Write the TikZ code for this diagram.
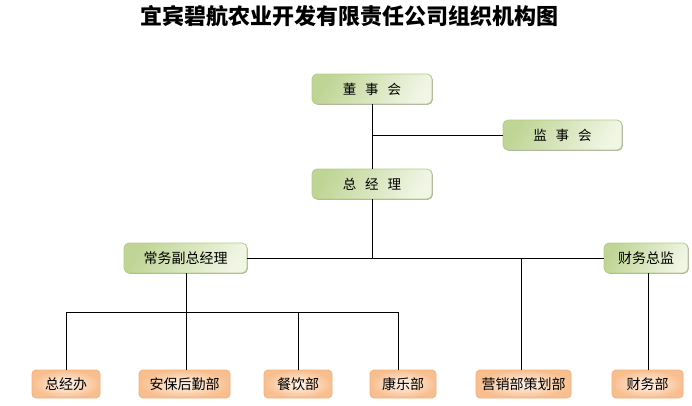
\documentclass[tikz,border=0pt]{standalone}
\usepackage{fontspec}
\setmainfont{Noto Sans CJK SC}
\usetikzlibrary{shadows}
\definecolor{gdark}{HTML}{BFD595}
\definecolor{glight}{HTML}{F0F5E4}
\definecolor{gborder}{HTML}{B5CB86}
\definecolor{odark}{HTML}{F8BE8E}
\definecolor{olight}{HTML}{FFF6EE}
\definecolor{oborder}{HTML}{F3B07E}
\newcommand{\gsp}{\hspace{0.65em}}
\tikzset{
  gbox/.style={draw=gborder, line width=0.8pt, rounded corners=5pt,
    left color=gdark, right color=glight, shading angle=60,
    minimum height=30pt, inner sep=0pt, font=\fontsize{13.5}{15}\selectfont,
    drop shadow={shadow xshift=0.8pt, shadow yshift=-0.8pt, fill=black!55, opacity=0.6}},
  obox/.style={draw=oborder, line width=0.8pt, rounded corners=4pt,
    inner color=olight, outer color=odark,
    minimum height=28pt, inner sep=0pt, font=\fontsize{14}{15}\selectfont},
  conn/.style={line width=1pt, black}
}
\begin{document}
\begin{tikzpicture}[x=1pt,y=-1pt]
\useasboundingbox (0,0) rectangle (692,405);
\node[font=\fontsize{22}{25}\selectfont\bfseries] (title) at (349,16) {宜宾碧航农业开发有限责任公司组织机构图};
% green boxes
\node[gbox, minimum width=120pt] (dsh) at (372,89) {董\gsp 事\gsp 会};
\node[gbox, minimum width=119pt] (jsh) at (562.5,135) {监\gsp 事\gsp 会};
\node[gbox, minimum width=120pt] (zjl) at (372,184) {总\gsp 经\gsp 理};
\node[gbox, minimum width=123pt, font=\fontsize{14}{15}\selectfont] (cw) at (185.5,258) {常务副总经理};
\node[gbox, minimum width=84pt, font=\fontsize{14}{15}\selectfont] (cwzj) at (646,258) {财务总监};
% orange boxes
\node[obox, minimum width=68pt] (zjb) at (66,384) {总经办};
\node[obox, minimum width=91pt] (abh) at (184.5,384) {安保后勤部};
\node[obox, minimum width=68pt] (cy) at (298,384) {餐饮部};
\node[obox, minimum width=66pt] (kl) at (403,384) {康乐部};
\node[obox, minimum width=95pt] (yx) at (523.5,384) {营销部策划部};
\node[obox, minimum width=71pt] (cwb) at (647.5,384) {财务部};
% coordinates
\coordinate (j1) at (372,135);
\coordinate (j2) at (372,258);
\coordinate (j3) at (521.5,258);
\coordinate (j4) at (186.5,312.5);
\coordinate (b1) at (66,312.5);
\coordinate (b2) at (298,312.5);
\coordinate (b3) at (398.5,312.5);
\coordinate (f1) at (648.5,273);
\coordinate (f2) at (648.5,370);
\coordinate (c1) at (186.5,273);
% connectors
\draw[conn] (dsh.south) -- (zjl.north);
\draw[conn] (j1) -- (jsh.west);
\draw[conn] (zjl.south) -- (j2);
\draw[conn] (cw.east) -- (cwzj.west);
\draw[conn] (j3) -- (j3 |- yx.north);
\draw[conn] (f1) -- (f2);
\draw[conn] (c1) -- (j4);
\draw[conn] (b1) -- (b3);
\draw[conn] (b1) -- (b1 |- zjb.north);
\draw[conn] (j4) -- (j4 |- abh.north);
\draw[conn] (b2) -- (b2 |- cy.north);
\draw[conn] (b3) -- (b3 |- kl.north);
\end{tikzpicture}
\end{document}
